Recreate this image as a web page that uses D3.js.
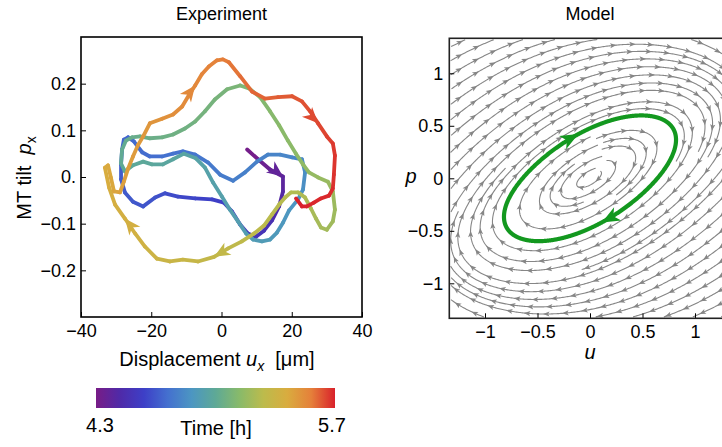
<!DOCTYPE html>
<html>
<head>
<meta charset="utf-8">
<script src="https://cdn.jsdelivr.net/npm/d3@7"></script>
<style>
  body { margin: 0; background: #fff; }
  svg text { font-family: "Liberation Sans", Arial, Helvetica, sans-serif; fill: #000; }
  .axis path.domain { display: none; }
  .axis line { stroke: #000; stroke-width: 1; }
</style>
</head>
<body>
<div id="chart-area"></div>
<script>
// ---- experiment: trajectory (displacement u_x in um, tilt p_x), time in hours
var uVals = [7.3,10.4,13.8,17.5,17.5,16.4,14.4,12.1,9.8,7.5,5.3,3.0,0.7,-2.7,-7.5,-12.4,-16.1,-18.9,-22.3,-25.2,
  -27.5,-28.6,-28.6,-28.3,-27.8,-26.6,-24.9,-22.6,-20.4,-16.9,-13.8,-11.0,-7.5,-3.8,-0.4,3.3,6.7,10.1,13.2,16.7,
  20.1,22.9,23.8,23.2,21.8,19.2,17.5,15.8,13.8,11.5,9.0,7.0,4.7,2.4,0.1,-2.4,-4.7,-7.3,-10.7,-13.8,
  -16.7,-19.8,-22.3,-25.2,-27.5,-28.6,-28.3,-27.2,-25.5,-23.2,-20.4,-16.9,-13.8,-10.4,-7.5,-4.7,-1.9,1.6,5.3,7.8,
  11.0,13.8,16.4,18.9,21.2,23.2,24.9,27.5,30.3,31.7,32.3,31.7,30.0,28.3,26.9,25.5,23.8,21.8,19.8,18.1,
  16.4,14.4,12.1,9.3,5.8,1.9,-2.1,-6.7,-11.0,-14.7,-18.4,-21.8,-24.6,-27.5,-30.3,-32.0,-33.2,-32.3,-31.5,-30.6,
  -28.9,-27.8,-26.6,-25.2,-23.8,-22.3,-20.4,-16.9,-13.8,-11.2,-9.3,-7.5,-5.6,-3.6,-1.3,0.4,2.1,5.3,8.7,12.4,
  16.1,20.1,22.9,25.2,27.5,30.0,31.7,32.3,32.0,31.7,30.6,28.3,26.3,24.3,22.9,21.2];
var pVals = [0.059,0.038,0.016,0.001,-0.031,-0.063,-0.093,-0.115,-0.128,-0.121,-0.102,-0.074,-0.055,-0.048,-0.046,-0.042,-0.035,-0.044,-0.063,-0.053,
  -0.033,-0.005,0.027,0.059,0.080,0.085,0.076,0.053,0.044,0.044,0.050,0.055,0.048,0.031,0.005,-0.008,0.010,0.033,0.048,0.048,
  0.042,0.038,0.010,-0.027,-0.048,-0.072,-0.098,-0.119,-0.134,-0.138,-0.134,-0.121,-0.095,-0.070,-0.042,-0.012,0.020,0.040,0.050,0.038,
  0.027,0.027,0.033,0.025,0.012,0.029,0.059,0.078,0.085,0.087,0.083,0.085,0.091,0.104,0.119,0.141,0.166,0.188,0.196,0.190,
  0.171,0.141,0.111,0.078,0.050,0.027,0.010,-0.001,-0.010,-0.031,-0.070,-0.095,-0.113,-0.108,-0.089,-0.068,-0.044,-0.033,-0.033,-0.044,
  -0.059,-0.080,-0.104,-0.121,-0.138,-0.153,-0.171,-0.181,-0.177,-0.181,-0.175,-0.149,-0.121,-0.089,-0.059,-0.023,0.020,0.025,-0.001,-0.031,
  -0.033,-0.010,0.018,0.044,0.068,0.087,0.115,0.125,0.134,0.151,0.175,0.196,0.220,0.237,0.250,0.252,0.246,0.216,0.183,0.168,
  0.171,0.173,0.162,0.141,0.115,0.087,0.072,0.046,0.005,-0.025,-0.040,-0.046,-0.055,-0.063,-0.063,-0.046];
var tVals = [4.30,4.33,4.36,4.38,4.41,4.44,4.47,4.50,4.51,4.52,4.54,4.55,4.57,4.58,4.59,4.61,4.62,4.64,4.64,4.65,
  4.66,4.66,4.67,4.68,4.69,4.69,4.70,4.71,4.71,4.72,4.73,4.73,4.74,4.75,4.76,4.77,4.78,4.78,4.79,4.80,
  4.80,4.81,4.83,4.84,4.85,4.86,4.87,4.88,4.89,4.90,4.90,4.91,4.92,4.92,4.93,4.94,4.94,4.95,4.96,4.97,
  4.97,4.98,4.99,4.99,5.00,5.01,5.01,5.02,5.03,5.04,5.04,5.05,5.06,5.06,5.07,5.08,5.08,5.09,5.10,5.11,
  5.12,5.13,5.14,5.15,5.15,5.16,5.17,5.18,5.18,5.19,5.20,5.20,5.21,5.22,5.22,5.23,5.24,5.25,5.25,5.26,
  5.27,5.27,5.28,5.29,5.29,5.30,5.31,5.32,5.34,5.34,5.35,5.36,5.38,5.39,5.39,5.41,5.42,5.43,5.43,5.44,
  5.45,5.46,5.46,5.47,5.48,5.48,5.49,5.50,5.51,5.52,5.53,5.53,5.54,5.55,5.55,5.56,5.57,5.58,5.60,5.60,
  5.61,5.62,5.62,5.64,5.64,5.65,5.66,5.67,5.67,5.68,5.69,5.69,5.69,5.69,5.70,5.70];
var arrowIdx = [3, 106, 113, 131, 144];   // arrowheads sit on these samples

var xTicksL = [-40, -20, 0, 20, 40];
var yTicksL = [-0.2, -0.1, 0, 0.1, 0.2];
var yTickTextL = ["\u22120.2", "\u22120.1", "0.", "0.1", "0.2"];
var timeRange = [4.3, 5.7];
var rainbow = ["#781c86","#4f2aa8","#3d3fc7","#4470cf","#4c96c2","#5ea996","#88ba6a","#bcbb4c","#d9ac3f","#e5803a","#d9212b"];

// ---- model: du/dt = a0 u + a1 p ,  dp/dt = b0 u + b1 p + b2 p^3
var modelU = [-0.85, 1.9];
var modelP = [-1.0, 0.95, -0.37];
var ticksR = [-1, -0.5, 0, 0.5, 1];
var tickTextR = ["\u22121", "\u22120.5", "0", "0.5", "1"];
var cycleArrowAt = [[-0.1, 0.4], [0.1, -0.4]];

var W = 722, H = 447;
var svg = d3.select("#chart-area").append("svg").attr("width", W).attr("height", H);
var defs = svg.append("defs");

function fmtMinus(v) { return String(v).replace("-", "\u2212"); }

function arrowHead(x, y, ang, len, hw, notch) {
    var c = Math.cos(ang), s = Math.sin(ang);
    var bx = x - c * len, by = y - s * len;
    var nx = x - c * (len - notch), ny = y - s * (len - notch);
    return "M" + x + "," + y + "L" + (bx - s * hw) + "," + (by + c * hw) +
        "L" + nx + "," + ny + "L" + (bx + s * hw) + "," + (by - c * hw) + "Z";
}

// ================= left panel: Experiment =================
var xL = d3.scaleLinear().domain([-40, 40]).range([81, 362]);
var yL = d3.scaleLinear().domain([-0.3, 0.3]).range([317, 37]);
var tColor = d3.scaleLinear()
    .domain(rainbow.map(function(c, i){ return timeRange[0] + (timeRange[1] - timeRange[0]) * i / (rainbow.length - 1); }))
    .range(rainbow);

var left = svg.append("g");

left.append("g").attr("class", "axis")
    .attr("transform", "translate(0,317)")
    .call(d3.axisBottom(xL).tickValues(xTicksL).tickSize(-5).tickPadding(7).tickFormat(fmtMinus))
    .selectAll("text").attr("font-size", 18).attr("font-family", null);
left.append("g").attr("class", "axis")
    .attr("transform", "translate(81,0)")
    .call(d3.axisLeft(yL).tickValues(yTicksL).tickSize(-5).tickPadding(5)
        .tickFormat(function(d, i){ return yTickTextL[i]; }))
    .selectAll("text").attr("font-size", 18).attr("font-family", null);

var segs = d3.range(uVals.length - 1);
left.selectAll(".seg").data(segs).enter().append("line")
    .attr("class", "seg")
    .attr("x1", function(i){ return xL(uVals[i]); })
    .attr("y1", function(i){ return yL(pVals[i]); })
    .attr("x2", function(i){ return xL(uVals[i + 1]); })
    .attr("y2", function(i){ return yL(pVals[i + 1]); })
    .attr("stroke", function(i){ return tColor((tVals[i] + tVals[i + 1]) / 2); })
    .attr("stroke-width", 3.8)
    .attr("stroke-linecap", "round");

left.selectAll(".arr").data(arrowIdx).enter().append("path")
    .attr("class", "arr")
    .attr("d", function(i){
        var x = xL(uVals[i]), y = yL(pVals[i]);
        var ang = Math.atan2(y - yL(pVals[i - 3]), x - xL(uVals[i - 3]));
        return arrowHead(x, y, ang, 16, 7, 4.5);
    })
    .attr("fill", function(i){ return tColor(tVals[i]); });

left.append("rect").attr("x", 81).attr("y", 37).attr("width", 281).attr("height", 280)
    .attr("fill", "none").attr("stroke", "#000").attr("stroke-width", 1.6);

left.append("text").attr("x", 221.5).attr("y", 20).attr("text-anchor", "middle")
    .attr("font-size", 18).text("Experiment");

var xlab = left.append("text").attr("x", 217).attr("y", 366).attr("text-anchor", "middle")
    .attr("font-size", 20).style("white-space", "pre");
xlab.append("tspan").text("Displacement ");
xlab.append("tspan").attr("font-style", "italic").text("u");
xlab.append("tspan").attr("font-style", "italic").attr("font-size", 14).attr("dy", 5).text("x");
xlab.append("tspan").attr("dy", -5).text("  [\u03bcm]");

var ylab = left.append("text").attr("transform", "translate(31,178) rotate(-90)")
    .attr("text-anchor", "middle").attr("font-size", 20).style("white-space", "pre");
ylab.append("tspan").text("MT tilt  ");
ylab.append("tspan").attr("font-style", "italic").text("p");
ylab.append("tspan").attr("font-size", 14).attr("dy", 5).text("x");

// colour bar
var grad = defs.append("linearGradient").attr("id", "rainbowGrad");
grad.selectAll("stop").data(rainbow).enter().append("stop")
    .attr("offset", function(c, i){ return (100 * i / (rainbow.length - 1)) + "%"; })
    .attr("stop-color", function(c){ return c; });
var cbScale = d3.scaleLinear().domain(timeRange).range([96, 335]);
left.append("rect").attr("x", cbScale(timeRange[0])).attr("y", 388)
    .attr("width", cbScale(timeRange[1]) - cbScale(timeRange[0])).attr("height", 20)
    .attr("fill", "url(#rainbowGrad)");
left.append("text").attr("x", cbScale(timeRange[0]) + 4).attr("y", 432).attr("text-anchor", "middle")
    .attr("font-size", 20).text(timeRange[0].toFixed(1));
left.append("text").attr("x", cbScale(timeRange[1]) - 3).attr("y", 432).attr("text-anchor", "middle")
    .attr("font-size", 20).text(timeRange[1].toFixed(1));
left.append("text").attr("x", 216).attr("y", 435).attr("text-anchor", "middle")
    .attr("font-size", 20).text("Time [h]");

// ================= right panel: Model =================
var xR = d3.scaleLinear().domain([-1.34, 1.34]).range([449.3, 730.7]);
var yR = d3.scaleLinear().domain([-1.333, 1.333]).range([318.3, 38.3]);
var kx = xR(1) - xR(0), ky = yR(0) - yR(1);

function fieldAt(u, p) {
    return [modelU[0] * u + modelU[1] * p,
            modelP[0] * u + modelP[1] * p + modelP[2] * p * p * p];
}
function rk4(s, dt) {
    var k1 = fieldAt(s[0], s[1]);
    var k2 = fieldAt(s[0] + k1[0] * dt / 2, s[1] + k1[1] * dt / 2);
    var k3 = fieldAt(s[0] + k2[0] * dt / 2, s[1] + k2[1] * dt / 2);
    var k4 = fieldAt(s[0] + k3[0] * dt, s[1] + k3[1] * dt);
    return [s[0] + dt * (k1[0] + 2 * k2[0] + 2 * k3[0] + k4[0]) / 6,
            s[1] + dt * (k1[1] + 2 * k2[1] + 2 * k3[1] + k4[1]) / 6];
}

// limit cycle: run long, then record one turn
var st = [0.5, 0.3];
for (var i = 0; i < 40000; i++) st = rk4(st, 0.01);
var cycData = [], started = false;
for (var i = 0; i < 40000; i++) {
    var nx = rk4(st, 0.004);
    if (st[0] < 0 && nx[0] >= 0 && nx[1] > 0) { if (started) break; started = true; }
    if (started) cycData.push(nx);
    st = nx;
}
var cycPts = cycData.map(function(d){ return [xR(d[0]), yR(d[1])]; });

function dirPx(x, y) {
    var f = fieldAt(xR.invert(x), yR.invert(y));
    var dx = f[0] * kx, dy = -f[1] * ky;
    var m = Math.sqrt(dx * dx + dy * dy);
    if (m < 1e-3) return null;
    return [dx / m, dy / m];
}
function stepPx(x, y, h) {
    var d1 = dirPx(x, y); if (!d1) return null;
    var d2 = dirPx(x + d1[0] * h / 2, y + d1[1] * h / 2); if (!d2) return null;
    return [x + d2[0] * h, y + d2[1] * h];
}

var dsep = 12, dtest = 5.5, hstep = 1.2;
var bx0 = 450.5, bx1 = 729.5, by0 = 39.5, by1 = 317;
var grid = new Map();
function gkey(i, j){ return i * 100000 + j; }
function gadd(x, y) {
    var k = gkey(Math.floor(x / dsep), Math.floor(y / dsep));
    if (!grid.has(k)) grid.set(k, []);
    grid.get(k).push([x, y]);
}
function isFree(x, y, d) {
    var ci = Math.floor(x / dsep), cj = Math.floor(y / dsep), r = Math.ceil(d / dsep);
    for (var i = ci - r; i <= ci + r; i++) for (var j = cj - r; j <= cj + r; j++) {
        var a = grid.get(gkey(i, j)); if (!a) continue;
        for (var n = 0; n < a.length; n++) {
            var dx = a[n][0] - x, dy = a[n][1] - y;
            if (dx * dx + dy * dy < d * d) return false;
        }
    }
    return true;
}
function inBox(x, y){ return x > bx0 && x < bx1 && y > by0 && y < by1; }

function trace(x0, y0) {
    var own = new Map();
    function oadd(x, y, half, idx) {
        var k = gkey(Math.floor(x / dsep), Math.floor(y / dsep));
        if (!own.has(k)) own.set(k, []);
        own.get(k).push([x, y, half, idx]);
    }
    function ohit(x, y, half, idx) {
        var ci = Math.floor(x / dsep), cj = Math.floor(y / dsep);
        for (var i = ci - 1; i <= ci + 1; i++) for (var j = cj - 1; j <= cj + 1; j++) {
            var a = own.get(gkey(i, j)); if (!a) continue;
            for (var n = 0; n < a.length; n++) {
                var e = a[n];
                var gap = e[2] === half ? idx - e[3] : idx + e[3];
                if (gap < 20) continue;
                var dx = e[0] - x, dy = e[1] - y;
                if (dx * dx + dy * dy < dtest * dtest) return true;
            }
        }
        return false;
    }
    oadd(x0, y0, 0, 0);
    function run(sign, half) {
        var pts = [], x = x0, y = y0;
        for (var k = 1; k < 1800; k++) {
            var nx = stepPx(x, y, sign * hstep);
            if (!nx) break;
            x = nx[0]; y = nx[1];
            if (!inBox(x, y) || !isFree(x, y, dtest) || ohit(x, y, half, k)) break;
            pts.push([x, y]);
            oadd(x, y, half, k);
        }
        return pts;
    }
    var fwd = run(1, 1), back = run(-1, 2);
    return back.reverse().concat([[x0, y0]], fwd);
}

var seedCycle = cycPts.filter(function(d, i){ return i % 3 === 0; });
seedCycle.forEach(function(p){ gadd(p[0], p[1]); });

var lines = [], queue = [seedCycle.concat([seedCycle[0], seedCycle[1]])];
function addLine(L) { L.forEach(function(p){ gadd(p[0], p[1]); }); lines.push(L); queue.push(L); }
function drain() {
    while (queue.length) {
        var L = queue.shift();
        for (var i = 1; i < L.length - 1; i += 3) {
            var tx = L[i + 1][0] - L[i - 1][0], ty = L[i + 1][1] - L[i - 1][1];
            var m = Math.sqrt(tx * tx + ty * ty); if (m < 1e-6) continue;
            var nx = -ty / m, ny = tx / m;
            [-1, 1].forEach(function(sg){
                var sx = L[i][0] + sg * dsep * nx, sy = L[i][1] + sg * dsep * ny;
                if (!inBox(sx, sy) || !isFree(sx, sy, dsep * 0.97)) return;
                var S = trace(sx, sy);
                if (S.length >= 7) addLine(S);
            });
        }
    }
}
drain();
for (var gx = bx0 + 3; gx < bx1; gx += 5) for (var gy = by0 + 3; gy < by1; gy += 5) {
    if (isFree(gx, gy, dsep)) { var S = trace(gx, gy); if (S.length >= 7) { addLine(S); drain(); } }
}

var right = svg.append("g");
defs.append("clipPath").attr("id", "clipR").append("rect")
    .attr("x", 449.3).attr("y", 38.3).attr("width", 281.4).attr("height", 280);

var streams = right.append("g").attr("clip-path", "url(#clipR)");
streams.selectAll(".stream").data(lines).enter().append("path")
    .attr("class", "stream")
    .attr("d", d3.line())
    .attr("fill", "none").attr("stroke", "#868686").attr("stroke-width", 1.1);

var heads = [];
lines.forEach(function(L){
    var cum = [0];
    for (var i = 1; i < L.length; i++)
        cum.push(cum[i - 1] + Math.hypot(L[i][0] - L[i - 1][0], L[i][1] - L[i - 1][1]));
    var total = cum[cum.length - 1];
    var s = Math.min(13, total * 0.85), j = 1;
    while (s <= total) {
        while (j < L.length - 1 && cum[j] < s) j++;
        var a = L[Math.max(0, j - 3)], b = L[j];
        heads.push([b[0], b[1], Math.atan2(b[1] - a[1], b[0] - a[0])]);
        s += 19;
    }
});
streams.selectAll(".shead").data(heads).enter().append("path")
    .attr("class", "shead")
    .attr("d", function(h){ return arrowHead(h[0], h[1], h[2], 6.5, 2.6, 1.5); })
    .attr("fill", "#868686");

streams.append("path").datum(cycPts)
    .attr("d", d3.line().curve(d3.curveLinearClosed))
    .attr("fill", "none").attr("stroke", "#13981f").attr("stroke-width", 4.2);

streams.selectAll(".carr").data(cycleArrowAt).enter().append("path")
    .attr("class", "carr")
    .attr("d", function(t){
        var best = 0, bd = Infinity;
        cycData.forEach(function(d, i){
            var e = (d[0] - t[0]) * (d[0] - t[0]) + (d[1] - t[1]) * (d[1] - t[1]);
            if (e < bd) { bd = e; best = i; }
        });
        var q = cycData[best], f = fieldAt(q[0], q[1]);
        var ang = Math.atan2(-f[1] * ky, f[0] * kx);
        return arrowHead(xR(q[0]), yR(q[1]), ang, 18, 7.5, 5);
    })
    .attr("fill", "#13981f");

right.append("g").attr("class", "axis")
    .attr("transform", "translate(0,318.3)")
    .call(d3.axisBottom(xR).tickValues(ticksR).tickSize(-5).tickPadding(7)
        .tickFormat(function(d, i){ return tickTextR[i]; }))
    .selectAll("text").attr("font-size", 18).attr("font-family", null);
right.append("g").attr("class", "axis")
    .attr("transform", "translate(449.3,0)")
    .call(d3.axisLeft(yR).tickValues(ticksR).tickSize(-5).tickPadding(6)
        .tickFormat(function(d, i){ return tickTextR[i]; }))
    .selectAll("text").attr("font-size", 18).attr("font-family", null);

right.append("rect").attr("x", 449.3).attr("y", 38.3).attr("width", 281.4).attr("height", 280)
    .attr("fill", "none").attr("stroke", "#222").attr("stroke-width", 1.6);

right.append("text").attr("x", 590).attr("y", 20).attr("text-anchor", "middle")
    .attr("font-size", 18).text("Model");
right.append("text").attr("x", 590).attr("y", 359).attr("text-anchor", "middle")
    .attr("font-size", 20).attr("font-style", "italic").text("u");
right.append("text").attr("x", 411).attr("y", 183).attr("text-anchor", "middle")
    .attr("font-size", 20).attr("font-style", "italic").text("p");
</script>
</body>
</html>
